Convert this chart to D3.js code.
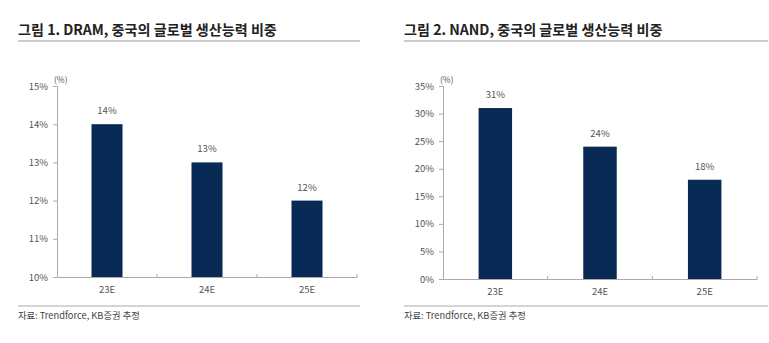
<!DOCTYPE html>
<html><head><meta charset="utf-8">
<script src="https://cdn.jsdelivr.net/npm/d3@7"></script>
<style>
body{margin:0;background:#fff;}
text{font-family:"Noto Sans CJK KR","Noto Sans",sans-serif;}
</style></head>
<body><svg id="c" width="769" height="343"></svg>
<script>
const categories = ["23E","24E","25E"];
const dramValues = [14,13,12];
const nandValues = [31,24,18];
const dramTicks = [10,11,12,13,14,15];
const nandTicks = [0,5,10,15,20,25,30,35];
const titles = ["그림 1. DRAM, 중국의 글로벌 생산능력 비중","그림 2. NAND, 중국의 글로벌 생산능력 비중"];
const sourceText = "자료: Trendforce, KB증권 추정";
const unitLabel = "(%)";

const svg = d3.select("#c");
const barColor = "#0a2a56";

function panel(cfg){
  const g = svg.append("g");
  g.append("text").attr("x",cfg.left).attr("y",35).attr("font-size",14.1).attr("font-weight",700)
    .attr("fill","#222").text(cfg.title);
  g.append("line").attr("x1",cfg.left).attr("x2",cfg.right).attr("y1",41).attr("y2",41)
    .attr("stroke","#999").attr("stroke-width",1.2);
  g.append("line").attr("x1",cfg.left).attr("x2",cfg.right).attr("y1",306).attr("y2",306)
    .attr("stroke","#aaa").attr("stroke-width",1);
  g.append("text").attr("x",cfg.left).attr("y",319).attr("font-size",9.3).attr("fill","#444").text(sourceText);

  const x = d3.scaleBand().domain(categories).range([cfg.x0,cfg.x1]).paddingInner(cfg.pad).paddingOuter(cfg.pad/2);
  const y = d3.scaleLinear().domain(cfg.domain).range([cfg.y0,cfg.y1]);

  const ya = g.append("g").attr("transform",`translate(${cfg.x0},0)`)
    .call(d3.axisLeft(y).tickValues(cfg.ticks).tickFormat(d=>d+"%").tickSizeOuter(0).tickSize(4).tickPadding(5));
  ya.select(".domain").attr("stroke","#aaa");
  ya.selectAll(".tick line").attr("stroke","#aaa");
  ya.selectAll(".tick text").attr("font-size",9.5).attr("fill","#555");

  const xa = g.append("g").attr("transform",`translate(0,${cfg.y0})`)
    .call(d3.axisBottom(x).tickSize(0).tickPadding(9));
  xa.select(".domain").attr("stroke","#aaa");
  xa.selectAll(".tick text").attr("font-size",9.5).attr("fill","#555");
  const step = x.step();
  g.selectAll(".sep").data(categories).enter().append("line")
    .attr("x1",(c)=>x(c)+x.bandwidth()/2+step/2).attr("x2",(c)=>x(c)+x.bandwidth()/2+step/2)
    .attr("y1",cfg.y0).attr("y2",cfg.y0-3).attr("stroke","#aaa");

  g.append("text").attr("x",cfg.x0-3).attr("y",cfg.y1-3).attr("font-size",8.5).attr("fill","#555").text(unitLabel);

  g.selectAll("rect.bar").data(cfg.values).enter().append("rect")
    .attr("x",(d,i)=>x(categories[i])).attr("width",x.bandwidth())
    .attr("y",d=>y(d)).attr("height",d=>cfg.y0-y(d)).attr("fill",barColor);
  g.selectAll("text.val").data(cfg.values).enter().append("text")
    .attr("x",(d,i)=>x(categories[i])+x.bandwidth()/2).attr("y",d=>y(d)-10)
    .attr("text-anchor","middle").attr("font-size",9.5).attr("fill","#555").text(d=>d+"%");
}

panel({title:titles[0],left:18,right:360,x0:57,x1:357,y0:277,y1:86,domain:[10,15],ticks:dramTicks,values:dramValues,pad:0.69});
panel({title:titles[1],left:404,right:768,x0:443,x1:757,y0:279,y1:86,domain:[0,35],ticks:nandTicks,values:nandValues,pad:0.68});
</script></body></html>
